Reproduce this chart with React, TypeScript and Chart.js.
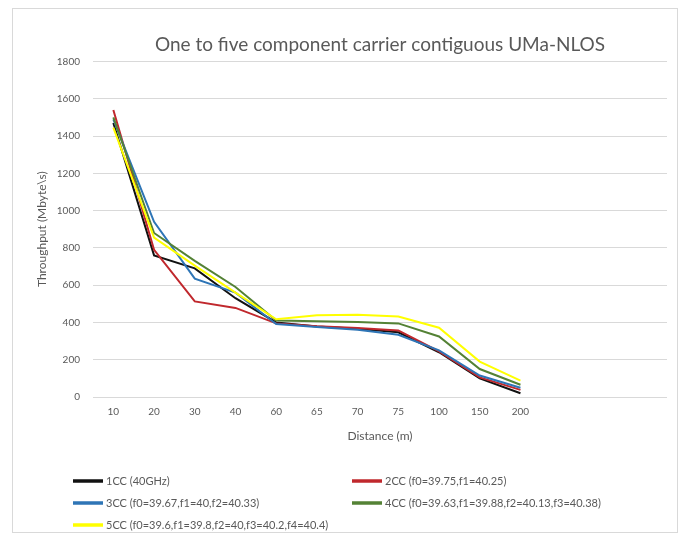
import React, { useEffect, useRef } from "react";
import { Chart, registerables } from "chart.js";

Chart.register(...registerables);

// Distance categories (m)
const distances = ["10", "20", "30", "40", "60", "65", "70", "75", "100", "150", "200"];

// Throughput (Mbyte/s) per configuration
const cc1 = [1470, 760, 690, 530, 400, 378, 366, 347, 240, 100, 20];
const cc2 = [1540, 790, 513, 478, 395, 380, 370, 357, 245, 105, 38];
const cc3 = [1490, 940, 635, 560, 392, 375, 361, 334, 250, 115, 50];
const cc4 = [1500, 880, 730, 590, 410, 406, 403, 395, 325, 150, 66];
const cc5 = [1445, 855, 705, 560, 417, 438, 441, 432, 372, 190, 88];

const seriesLabels = [
  "1CC (40GHz)",
  "2CC (f0=39.75,f1=40.25)",
  "3CC (f0=39.67,f1=40,f2=40.33)",
  "4CC (f0=39.63,f1=39.88,f2=40.13,f3=40.38)",
  "5CC (f0=39.6,f1=39.8,f2=40,f3=40.2,f4=40.4)",
];
const seriesColors = ["#111111", "#c0282d", "#2e75b6", "#548235", "#ffff00"];
const seriesValues = [cc1, cc2, cc3, cc4, cc5];

const titleText = "One to five component carrier contiguous UMa-NLOS";
const yTitle = "Throughput (Mbyte\\s)";
const xTitle = "Distance (m)";

const FONT = "Lato, 'Open Sans', sans-serif";
const GREY = "#595959";

export default function App() {
  const ref = useRef<HTMLCanvasElement | null>(null);

  useEffect(() => {
    if (!ref.current) return;

    const legendPlugin = {
      id: "gridLegend",
      afterDraw(chart: any) {
        const ctx = chart.ctx;
        const slots = [
          [60, 472],
          [339, 472],
          [60, 494],
          [339, 494],
          [60, 516],
        ];
        ctx.save();
        chart.data.datasets.forEach((ds: any, i: number) => {
          const [x, y] = slots[i];
          ctx.strokeStyle = ds.borderColor;
          ctx.lineWidth = 3.5;
          ctx.beginPath();
          ctx.moveTo(x, y);
          ctx.lineTo(x + 30, y);
          ctx.stroke();
          ctx.fillStyle = GREY;
          ctx.font = `11px ${FONT}`;
          ctx.textBaseline = "middle";
          ctx.textAlign = "left";
          ctx.fillText(ds.label, x + 33, y);
        });
        ctx.restore();
      },
    };

    const datasets = seriesValues.map((vals, s) => ({
      label: seriesLabels[s],
      data: vals.map((v, i) => ({ x: i, y: v })),
      borderColor: seriesColors[s],
      backgroundColor: seriesColors[s],
      borderWidth: 2,
      pointRadius: 0,
      tension: 0,
      order: seriesValues.length - 1 - s,
    }));

    const chart = new Chart(ref.current, {
      type: "line",
      data: { datasets },
      options: {
        responsive: false,
        animation: false,
        layout: { padding: { left: 0, right: 10, top: 0, bottom: 85 } },
        plugins: {
          legend: { display: false },
          tooltip: { enabled: false },
          title: {
            display: true,
            text: titleText,
            fullSize: false,
            color: GREY,
            font: { family: FONT, size: 19, weight: "normal" },
            padding: { top: 24, bottom: 5.7 },
          },
        },
        scales: {
          x: {
            type: "linear",
            min: -0.5,
            max: 13.6,
            afterBuildTicks: (scale: any) => {
              scale.ticks = distances.map((_, i) => ({ value: i }));
            },
            afterFit: (scale: any) => {
              scale.height = 50;
            },
            ticks: {
              autoSkip: false,
              maxRotation: 0,
              padding: 9,
              color: GREY,
              font: { family: FONT, size: 10 },
              callback: (v: any) => distances[v] ?? "",
            },
            grid: { display: false, drawTicks: false },
            border: { display: false },
            title: {
              display: true,
              text: xTitle,
              color: GREY,
              font: { family: FONT, size: 12 },
              padding: { top: 0, bottom: 4 },
            },
          },
          y: {
            min: 0,
            max: 1800,
            afterFit: (scale: any) => {
              scale.width = 80;
            },
            ticks: {
              stepSize: 200,
              padding: 13,
              color: GREY,
              font: { family: FONT, size: 10 },
              callback: (v: any) => String(v),
            },
            grid: { color: "#d9d9d9", drawTicks: false, lineWidth: 1 },
            border: { display: false },
            title: {
              display: true,
              text: yTitle,
              color: GREY,
              font: { family: FONT, size: 12 },
              padding: { top: 21.5, bottom: 0 },
            },
          },
        },
      },
      plugins: [legendPlugin],
    } as any);

    return () => chart.destroy();
  }, []);

  return (
    <div
      style={{
        marginLeft: 4,
        width: 664,
        height: 523,
        border: "1px solid #d9d9d9",
        background: "#fff",
      }}
    >
      <canvas ref={ref} width={664} height={523} style={{ display: "block" }} />
    </div>
  );
}
